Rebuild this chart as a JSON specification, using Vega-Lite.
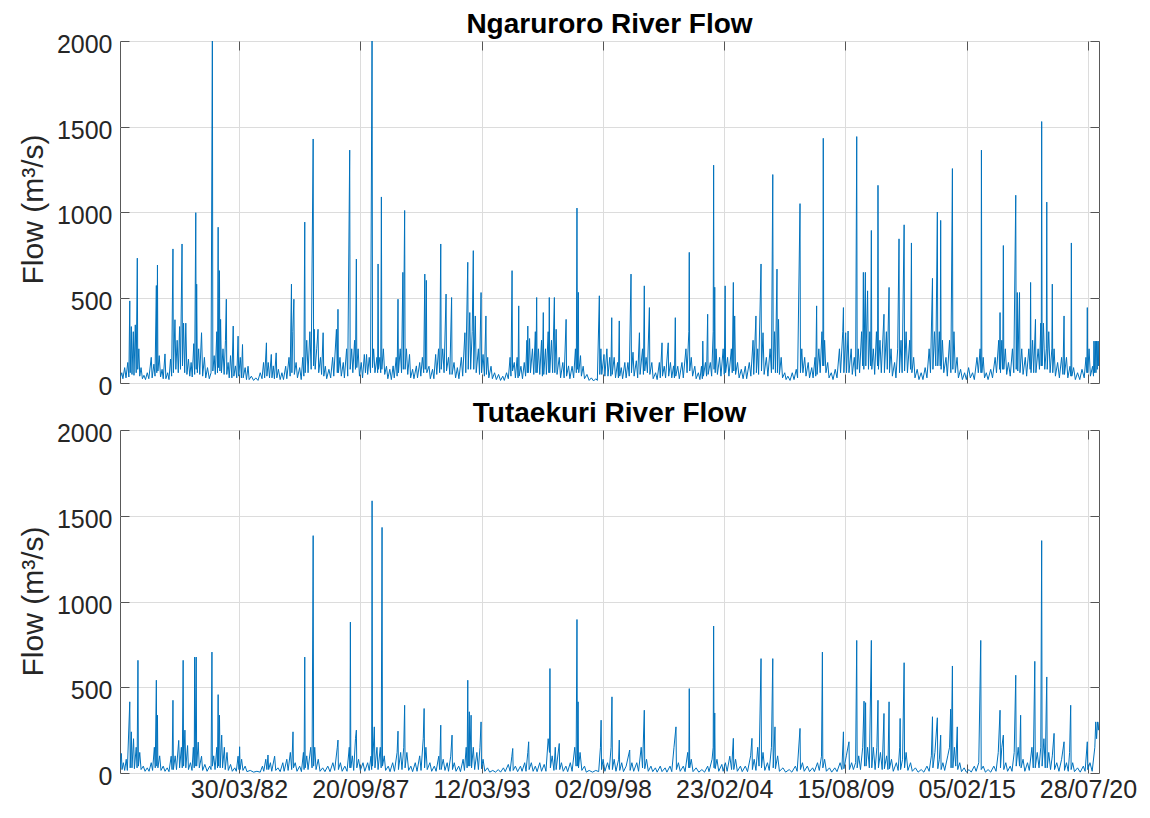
{
"$schema": "https://vega.github.io/schema/vega-lite/v6.json",
"background": "white",
"padding": {"left": 17, "top": 10, "right": 5, "bottom": 5},
"spacing": -1,
"config": {
  "font": "Liberation Sans",
  "view": {"stroke": "#595959", "strokeWidth": 1},
  "axis": {"labelFont": "Liberation Sans", "labelFontSize": 25, "labelColor": "#262626", "titleFont": "Liberation Sans", "titleFontSize": 30, "titleColor": "#262626", "titleFontWeight": "normal", "gridColor": "#dcdcdc", "gridOpacity": 1, "gridWidth": 1, "domain": false, "ticks": true, "tickSize": -9, "tickColor": "#555555", "tickWidth": 1},
  "title": {"font": "Liberation Sans", "fontSize": 28, "fontWeight": "bold", "color": "#000000", "anchor": "middle", "frame": "group", "baseline": "alphabetic", "offset": 8, "dy": 14}
},
"datasets": {
"ngaruroro": [
{"year":1976.88,"flow":30},{"year":1976.95,"flow":60},{"year":1977.00,"flow":25},{"year":1977.08,"flow":90},{"year":1977.14,"flow":30},{"year":1977.22,"flow":120},{"year":1977.27,"flow":35},{"year":1977.31,"flow":480},{"year":1977.33,"flow":60},{"year":1977.38,"flow":330},{"year":1977.41,"flow":50},{"year":1977.47,"flow":300},{"year":1977.50,"flow":45},{"year":1977.56,"flow":340},{"year":1977.60,"flow":60},{"year":1977.65,"flow":730},{"year":1977.67,"flow":80},{"year":1977.72,"flow":200},{"year":1977.76,"flow":40},{"year":1977.82,"flow":90},{"year":1977.88,"flow":25},{"year":1977.95,"flow":45},{"year":1978.02,"flow":20},{"year":1978.10,"flow":60},{"year":1978.17,"flow":25},{"year":1978.28,"flow":150},{"year":1978.32,"flow":30},{"year":1978.40,"flow":110},{"year":1978.45,"flow":40},{"year":1978.51,"flow":570},{"year":1978.53,"flow":60},{"year":1978.56,"flow":690},{"year":1978.58,"flow":70},{"year":1978.64,"flow":160},{"year":1978.70,"flow":35},{"year":1978.77,"flow":80},{"year":1978.82,"flow":25},{"year":1978.90,"flow":170},{"year":1978.94,"flow":25},{"year":1979.02,"flow":60},{"year":1979.08,"flow":20},{"year":1979.15,"flow":140},{"year":1979.20,"flow":40},{"year":1979.26,"flow":784},{"year":1979.28,"flow":60},{"year":1979.35,"flow":370},{"year":1979.39,"flow":80},{"year":1979.45,"flow":250},{"year":1979.50,"flow":60},{"year":1979.56,"flow":330},{"year":1979.60,"flow":80},{"year":1979.67,"flow":813},{"year":1979.69,"flow":100},{"year":1979.74,"flow":350},{"year":1979.79,"flow":60},{"year":1979.84,"flow":350},{"year":1979.89,"flow":50},{"year":1979.96,"flow":140},{"year":1980.02,"flow":40},{"year":1980.08,"flow":120},{"year":1980.13,"flow":35},{"year":1980.20,"flow":230},{"year":1980.24,"flow":50},{"year":1980.29,"flow":996},{"year":1980.31,"flow":80},{"year":1980.33,"flow":578},{"year":1980.36,"flow":60},{"year":1980.42,"flow":200},{"year":1980.47,"flow":50},{"year":1980.55,"flow":294},{"year":1980.60,"flow":40},{"year":1980.68,"flow":150},{"year":1980.74,"flow":30},{"year":1980.82,"flow":90},{"year":1980.90,"flow":25},{"year":1980.98,"flow":60},{"year":1981.04,"flow":2100},{"year":1981.06,"flow":70},{"year":1981.12,"flow":160},{"year":1981.17,"flow":50},{"year":1981.24,"flow":300},{"year":1981.27,"flow":60},{"year":1981.30,"flow":911},{"year":1981.32,"flow":90},{"year":1981.36,"flow":657},{"year":1981.38,"flow":70},{"year":1981.41,"flow":372},{"year":1981.45,"flow":60},{"year":1981.52,"flow":200},{"year":1981.57,"flow":50},{"year":1981.63,"flow":250},{"year":1981.67,"flow":490},{"year":1981.69,"flow":50},{"year":1981.75,"flow":120},{"year":1981.80,"flow":30},{"year":1981.86,"flow":160},{"year":1981.92,"flow":30},{"year":1981.98,"flow":333},{"year":1982.01,"flow":40},{"year":1982.08,"flow":100},{"year":1982.14,"flow":30},{"year":1982.20,"flow":274},{"year":1982.23,"flow":40},{"year":1982.30,"flow":150},{"year":1982.35,"flow":30},{"year":1982.40,"flow":225},{"year":1982.43,"flow":30},{"year":1982.52,"flow":90},{"year":1982.58,"flow":20},{"year":1982.65,"flow":98},{"year":1982.70,"flow":20},{"year":1982.80,"flow":40},{"year":1982.90,"flow":15},{"year":1983.00,"flow":30},{"year":1983.10,"flow":15},{"year":1983.20,"flow":60},{"year":1983.28,"flow":25},{"year":1983.35,"flow":120},{"year":1983.40,"flow":30},{"year":1983.48,"flow":235},{"year":1983.50,"flow":40},{"year":1983.56,"flow":120},{"year":1983.62,"flow":30},{"year":1983.70,"flow":167},{"year":1983.73,"flow":30},{"year":1983.79,"flow":100},{"year":1983.84,"flow":25},{"year":1983.92,"flow":176},{"year":1983.95,"flow":30},{"year":1984.02,"flow":80},{"year":1984.10,"flow":20},{"year":1984.18,"flow":60},{"year":1984.25,"flow":20},{"year":1984.35,"flow":98},{"year":1984.40,"flow":25},{"year":1984.50,"flow":150},{"year":1984.55,"flow":40},{"year":1984.61,"flow":578},{"year":1984.63,"flow":60},{"year":1984.67,"flow":300},{"year":1984.72,"flow":490},{"year":1984.74,"flow":50},{"year":1984.82,"flow":120},{"year":1984.88,"flow":30},{"year":1984.98,"flow":90},{"year":1985.05,"flow":20},{"year":1985.12,"flow":150},{"year":1985.17,"flow":40},{"year":1985.21,"flow":941},{"year":1985.23,"flow":60},{"year":1985.30,"flow":250},{"year":1985.36,"flow":60},{"year":1985.44,"flow":300},{"year":1985.50,"flow":80},{"year":1985.59,"flow":1427},{"year":1985.61,"flow":100},{"year":1985.64,"flow":314},{"year":1985.68,"flow":80},{"year":1985.75,"flow":200},{"year":1985.81,"flow":314},{"year":1985.84,"flow":60},{"year":1985.92,"flow":150},{"year":1985.97,"flow":50},{"year":1986.04,"flow":294},{"year":1986.07,"flow":40},{"year":1986.14,"flow":98},{"year":1986.20,"flow":25},{"year":1986.30,"flow":80},{"year":1986.38,"flow":30},{"year":1986.47,"flow":150},{"year":1986.52,"flow":40},{"year":1986.64,"flow":314},{"year":1986.68,"flow":60},{"year":1986.71,"flow":431},{"year":1986.73,"flow":60},{"year":1986.80,"flow":150},{"year":1986.86,"flow":40},{"year":1986.95,"flow":120},{"year":1987.00,"flow":30},{"year":1987.10,"flow":200},{"year":1987.15,"flow":40},{"year":1987.24,"flow":1362},{"year":1987.26,"flow":80},{"year":1987.33,"flow":200},{"year":1987.38,"flow":60},{"year":1987.46,"flow":250},{"year":1987.50,"flow":80},{"year":1987.54,"flow":725},{"year":1987.56,"flow":90},{"year":1987.62,"flow":200},{"year":1987.68,"flow":40},{"year":1987.76,"flow":120},{"year":1987.82,"flow":30},{"year":1987.90,"flow":167},{"year":1987.95,"flow":60},{"year":1988.00,"flow":167},{"year":1988.05,"flow":50},{"year":1988.12,"flow":150},{"year":1988.18,"flow":60},{"year":1988.25,"flow":2100},{"year":1988.27,"flow":90},{"year":1988.32,"flow":200},{"year":1988.38,"flow":60},{"year":1988.47,"flow":150},{"year":1988.50,"flow":60},{"year":1988.52,"flow":696},{"year":1988.54,"flow":80},{"year":1988.60,"flow":150},{"year":1988.64,"flow":60},{"year":1988.67,"flow":1088},{"year":1988.69,"flow":80},{"year":1988.76,"flow":200},{"year":1988.82,"flow":50},{"year":1988.90,"flow":98},{"year":1988.96,"flow":25},{"year":1989.05,"flow":80},{"year":1989.12,"flow":20},{"year":1989.20,"flow":100},{"year":1989.25,"flow":30},{"year":1989.34,"flow":150},{"year":1989.38,"flow":40},{"year":1989.42,"flow":490},{"year":1989.44,"flow":60},{"year":1989.52,"flow":200},{"year":1989.58,"flow":60},{"year":1989.64,"flow":647},{"year":1989.66,"flow":80},{"year":1989.72,"flow":1009},{"year":1989.74,"flow":80},{"year":1989.80,"flow":200},{"year":1989.86,"flow":50},{"year":1989.94,"flow":167},{"year":1989.99,"flow":30},{"year":1990.08,"flow":80},{"year":1990.14,"flow":25},{"year":1990.25,"flow":100},{"year":1990.30,"flow":30},{"year":1990.40,"flow":120},{"year":1990.45,"flow":40},{"year":1990.52,"flow":150},{"year":1990.58,"flow":60},{"year":1990.63,"flow":637},{"year":1990.65,"flow":80},{"year":1990.70,"flow":600},{"year":1990.72,"flow":60},{"year":1990.82,"flow":98},{"year":1990.88,"flow":25},{"year":1990.98,"flow":80},{"year":1991.04,"flow":25},{"year":1991.12,"flow":167},{"year":1991.17,"flow":50},{"year":1991.25,"flow":200},{"year":1991.30,"flow":60},{"year":1991.35,"flow":813},{"year":1991.37,"flow":80},{"year":1991.44,"flow":200},{"year":1991.50,"flow":60},{"year":1991.59,"flow":520},{"year":1991.61,"flow":70},{"year":1991.70,"flow":150},{"year":1991.76,"flow":50},{"year":1991.84,"flow":500},{"year":1991.86,"flow":50},{"year":1991.95,"flow":120},{"year":1992.02,"flow":30},{"year":1992.10,"flow":90},{"year":1992.17,"flow":25},{"year":1992.28,"flow":150},{"year":1992.34,"flow":40},{"year":1992.44,"flow":294},{"year":1992.48,"flow":60},{"year":1992.57,"flow":706},{"year":1992.59,"flow":80},{"year":1992.66,"flow":412},{"year":1992.70,"flow":80},{"year":1992.77,"flow":300},{"year":1992.82,"flow":774},{"year":1992.84,"flow":80},{"year":1992.91,"flow":392},{"year":1992.95,"flow":60},{"year":1993.05,"flow":200},{"year":1993.10,"flow":50},{"year":1993.17,"flow":529},{"year":1993.19,"flow":60},{"year":1993.26,"flow":167},{"year":1993.32,"flow":40},{"year":1993.39,"flow":392},{"year":1993.41,"flow":50},{"year":1993.47,"flow":150},{"year":1993.52,"flow":30},{"year":1993.62,"flow":98},{"year":1993.68,"flow":25},{"year":1993.78,"flow":60},{"year":1993.86,"flow":20},{"year":1993.96,"flow":50},{"year":1994.05,"flow":15},{"year":1994.15,"flow":40},{"year":1994.22,"flow":15},{"year":1994.32,"flow":60},{"year":1994.40,"flow":25},{"year":1994.48,"flow":150},{"year":1994.52,"flow":40},{"year":1994.57,"flow":657},{"year":1994.59,"flow":70},{"year":1994.67,"flow":120},{"year":1994.72,"flow":30},{"year":1994.80,"flow":150},{"year":1994.84,"flow":30},{"year":1994.87,"flow":451},{"year":1994.89,"flow":40},{"year":1994.97,"flow":98},{"year":1995.04,"flow":25},{"year":1995.12,"flow":120},{"year":1995.18,"flow":40},{"year":1995.24,"flow":250},{"year":1995.26,"flow":60},{"year":1995.28,"flow":333},{"year":1995.30,"flow":60},{"year":1995.36,"flow":260},{"year":1995.40,"flow":60},{"year":1995.49,"flow":200},{"year":1995.55,"flow":50},{"year":1995.62,"flow":300},{"year":1995.65,"flow":60},{"year":1995.68,"flow":500},{"year":1995.70,"flow":60},{"year":1995.76,"flow":200},{"year":1995.82,"flow":50},{"year":1995.90,"flow":250},{"year":1995.94,"flow":40},{"year":1995.98,"flow":412},{"year":1996.00,"flow":50},{"year":1996.08,"flow":200},{"year":1996.12,"flow":50},{"year":1996.20,"flow":300},{"year":1996.23,"flow":60},{"year":1996.25,"flow":500},{"year":1996.27,"flow":60},{"year":1996.35,"flow":250},{"year":1996.40,"flow":60},{"year":1996.48,"flow":500},{"year":1996.50,"flow":60},{"year":1996.56,"flow":314},{"year":1996.60,"flow":50},{"year":1996.70,"flow":150},{"year":1996.76,"flow":30},{"year":1996.86,"flow":120},{"year":1996.92,"flow":30},{"year":1997.01,"flow":372},{"year":1997.03,"flow":40},{"year":1997.12,"flow":100},{"year":1997.18,"flow":25},{"year":1997.28,"flow":98},{"year":1997.35,"flow":30},{"year":1997.43,"flow":200},{"year":1997.47,"flow":60},{"year":1997.50,"flow":1023},{"year":1997.52,"flow":80},{"year":1997.56,"flow":530},{"year":1997.58,"flow":60},{"year":1997.66,"flow":160},{"year":1997.70,"flow":40},{"year":1997.78,"flow":98},{"year":1997.84,"flow":25},{"year":1997.95,"flow":50},{"year":1998.05,"flow":15},{"year":1998.15,"flow":30},{"year":1998.25,"flow":12},{"year":1998.35,"flow":25},{"year":1998.42,"flow":15},{"year":1998.51,"flow":510},{"year":1998.53,"flow":50},{"year":1998.58,"flow":200},{"year":1998.62,"flow":50},{"year":1998.72,"flow":167},{"year":1998.76,"flow":40},{"year":1998.85,"flow":200},{"year":1998.90,"flow":40},{"year":1998.98,"flow":150},{"year":1999.03,"flow":40},{"year":1999.07,"flow":382},{"year":1999.09,"flow":50},{"year":1999.18,"flow":150},{"year":1999.24,"flow":30},{"year":1999.33,"flow":120},{"year":1999.37,"flow":30},{"year":1999.41,"flow":363},{"year":1999.43,"flow":40},{"year":1999.50,"flow":90},{"year":1999.56,"flow":25},{"year":1999.66,"flow":120},{"year":1999.72,"flow":30},{"year":1999.80,"flow":120},{"year":1999.86,"flow":40},{"year":1999.94,"flow":637},{"year":1999.96,"flow":60},{"year":2000.03,"flow":180},{"year":2000.08,"flow":40},{"year":2000.18,"flow":130},{"year":2000.24,"flow":30},{"year":2000.32,"flow":294},{"year":2000.35,"flow":50},{"year":2000.46,"flow":200},{"year":2000.50,"flow":50},{"year":2000.54,"flow":568},{"year":2000.56,"flow":70},{"year":2000.62,"flow":150},{"year":2000.68,"flow":60},{"year":2000.77,"flow":441},{"year":2000.79,"flow":50},{"year":2000.88,"flow":120},{"year":2000.94,"flow":25},{"year":2001.05,"flow":60},{"year":2001.12,"flow":20},{"year":2001.22,"flow":120},{"year":2001.26,"flow":30},{"year":2001.34,"flow":235},{"year":2001.36,"flow":40},{"year":2001.44,"flow":98},{"year":2001.50,"flow":30},{"year":2001.62,"flow":235},{"year":2001.64,"flow":40},{"year":2001.72,"flow":120},{"year":2001.78,"flow":30},{"year":2001.86,"flow":100},{"year":2001.90,"flow":30},{"year":2001.94,"flow":382},{"year":2001.96,"flow":40},{"year":2002.05,"flow":98},{"year":2002.12,"flow":25},{"year":2002.24,"flow":120},{"year":2002.30,"flow":30},{"year":2002.42,"flow":200},{"year":2002.47,"flow":60},{"year":2002.55,"flow":300},{"year":2002.57,"flow":764},{"year":2002.59,"flow":70},{"year":2002.66,"flow":150},{"year":2002.72,"flow":40},{"year":2002.82,"flow":98},{"year":2002.88,"flow":25},{"year":2002.98,"flow":60},{"year":2003.05,"flow":20},{"year":2003.12,"flow":98},{"year":2003.16,"flow":25},{"year":2003.18,"flow":245},{"year":2003.21,"flow":40},{"year":2003.30,"flow":120},{"year":2003.35,"flow":40},{"year":2003.40,"flow":402},{"year":2003.42,"flow":50},{"year":2003.52,"flow":120},{"year":2003.58,"flow":40},{"year":2003.65,"flow":300},{"year":2003.67,"flow":1274},{"year":2003.69,"flow":80},{"year":2003.72,"flow":560},{"year":2003.74,"flow":60},{"year":2003.78,"flow":200},{"year":2003.84,"flow":50},{"year":2003.94,"flow":150},{"year":2004.00,"flow":40},{"year":2004.10,"flow":200},{"year":2004.15,"flow":50},{"year":2004.19,"flow":568},{"year":2004.21,"flow":60},{"year":2004.30,"flow":150},{"year":2004.36,"flow":40},{"year":2004.47,"flow":200},{"year":2004.51,"flow":60},{"year":2004.56,"flow":588},{"year":2004.58,"flow":70},{"year":2004.62,"flow":392},{"year":2004.66,"flow":50},{"year":2004.75,"flow":120},{"year":2004.82,"flow":30},{"year":2004.92,"flow":80},{"year":2005.00,"flow":25},{"year":2005.10,"flow":98},{"year":2005.16,"flow":25},{"year":2005.28,"flow":120},{"year":2005.35,"flow":40},{"year":2005.45,"flow":250},{"year":2005.48,"flow":50},{"year":2005.58,"flow":392},{"year":2005.60,"flow":60},{"year":2005.66,"flow":200},{"year":2005.70,"flow":50},{"year":2005.81,"flow":696},{"year":2005.83,"flow":70},{"year":2005.90,"flow":294},{"year":2005.95,"flow":50},{"year":2006.05,"flow":150},{"year":2006.12,"flow":40},{"year":2006.22,"flow":200},{"year":2006.28,"flow":60},{"year":2006.34,"flow":1219},{"year":2006.36,"flow":80},{"year":2006.42,"flow":300},{"year":2006.46,"flow":60},{"year":2006.53,"flow":666},{"year":2006.55,"flow":60},{"year":2006.60,"flow":372},{"year":2006.64,"flow":50},{"year":2006.72,"flow":150},{"year":2006.78,"flow":30},{"year":2006.88,"flow":60},{"year":2006.94,"flow":20},{"year":2007.02,"flow":40},{"year":2007.12,"flow":15},{"year":2007.22,"flow":60},{"year":2007.30,"flow":20},{"year":2007.40,"flow":80},{"year":2007.46,"flow":30},{"year":2007.57,"flow":1049},{"year":2007.59,"flow":60},{"year":2007.65,"flow":200},{"year":2007.70,"flow":60},{"year":2007.78,"flow":150},{"year":2007.84,"flow":40},{"year":2007.94,"flow":120},{"year":2008.00,"flow":30},{"year":2008.10,"flow":90},{"year":2008.16,"flow":30},{"year":2008.25,"flow":150},{"year":2008.28,"flow":40},{"year":2008.32,"flow":451},{"year":2008.34,"flow":50},{"year":2008.42,"flow":200},{"year":2008.48,"flow":60},{"year":2008.56,"flow":300},{"year":2008.60,"flow":100},{"year":2008.62,"flow":1431},{"year":2008.64,"flow":100},{"year":2008.68,"flow":250},{"year":2008.74,"flow":60},{"year":2008.82,"flow":120},{"year":2008.88,"flow":30},{"year":2008.98,"flow":60},{"year":2009.06,"flow":20},{"year":2009.16,"flow":80},{"year":2009.24,"flow":30},{"year":2009.35,"flow":200},{"year":2009.40,"flow":60},{"year":2009.50,"flow":300},{"year":2009.53,"flow":441},{"year":2009.55,"flow":60},{"year":2009.63,"flow":294},{"year":2009.67,"flow":60},{"year":2009.74,"flow":304},{"year":2009.78,"flow":60},{"year":2009.88,"flow":200},{"year":2009.93,"flow":50},{"year":2010.02,"flow":150},{"year":2010.08,"flow":40},{"year":2010.13,"flow":1441},{"year":2010.15,"flow":80},{"year":2010.20,"flow":200},{"year":2010.26,"flow":60},{"year":2010.35,"flow":300},{"year":2010.40,"flow":100},{"year":2010.43,"flow":647},{"year":2010.45,"flow":80},{"year":2010.52,"flow":647},{"year":2010.54,"flow":100},{"year":2010.62,"flow":539},{"year":2010.66,"flow":80},{"year":2010.72,"flow":300},{"year":2010.76,"flow":100},{"year":2010.79,"flow":892},{"year":2010.81,"flow":80},{"year":2010.88,"flow":200},{"year":2010.94,"flow":50},{"year":2011.02,"flow":300},{"year":2011.07,"flow":100},{"year":2011.09,"flow":1156},{"year":2011.11,"flow":80},{"year":2011.18,"flow":250},{"year":2011.24,"flow":60},{"year":2011.36,"flow":402},{"year":2011.38,"flow":60},{"year":2011.47,"flow":300},{"year":2011.51,"flow":80},{"year":2011.59,"flow":559},{"year":2011.61,"flow":60},{"year":2011.68,"flow":200},{"year":2011.74,"flow":40},{"year":2011.84,"flow":120},{"year":2011.90,"flow":30},{"year":2011.98,"flow":200},{"year":2012.04,"flow":843},{"year":2012.06,"flow":60},{"year":2012.13,"flow":250},{"year":2012.18,"flow":60},{"year":2012.27,"flow":925},{"year":2012.29,"flow":70},{"year":2012.36,"flow":300},{"year":2012.42,"flow":60},{"year":2012.52,"flow":250},{"year":2012.56,"flow":80},{"year":2012.60,"flow":819},{"year":2012.62,"flow":60},{"year":2012.70,"flow":150},{"year":2012.76,"flow":30},{"year":2012.86,"flow":80},{"year":2012.94,"flow":20},{"year":2013.04,"flow":60},{"year":2013.12,"flow":20},{"year":2013.22,"flow":90},{"year":2013.30,"flow":30},{"year":2013.40,"flow":200},{"year":2013.46,"flow":60},{"year":2013.55,"flow":612},{"year":2013.57,"flow":80},{"year":2013.64,"flow":300},{"year":2013.70,"flow":100},{"year":2013.77,"flow":1000},{"year":2013.79,"flow":100},{"year":2013.86,"flow":300},{"year":2013.90,"flow":100},{"year":2013.92,"flow":951},{"year":2013.94,"flow":80},{"year":2014.00,"flow":250},{"year":2014.06,"flow":60},{"year":2014.16,"flow":150},{"year":2014.22,"flow":40},{"year":2014.32,"flow":250},{"year":2014.38,"flow":60},{"year":2014.45,"flow":1254},{"year":2014.47,"flow":80},{"year":2014.52,"flow":300},{"year":2014.58,"flow":60},{"year":2014.66,"flow":150},{"year":2014.72,"flow":30},{"year":2014.82,"flow":80},{"year":2014.90,"flow":20},{"year":2015.00,"flow":60},{"year":2015.08,"flow":20},{"year":2015.18,"flow":90},{"year":2015.26,"flow":30},{"year":2015.36,"flow":60},{"year":2015.44,"flow":20},{"year":2015.56,"flow":150},{"year":2015.62,"flow":60},{"year":2015.70,"flow":200},{"year":2015.74,"flow":60},{"year":2015.76,"flow":1362},{"year":2015.78,"flow":60},{"year":2015.84,"flow":150},{"year":2015.90,"flow":30},{"year":2015.98,"flow":60},{"year":2016.06,"flow":20},{"year":2016.18,"flow":80},{"year":2016.26,"flow":30},{"year":2016.38,"flow":150},{"year":2016.44,"flow":60},{"year":2016.54,"flow":250},{"year":2016.58,"flow":80},{"year":2016.60,"flow":412},{"year":2016.62,"flow":60},{"year":2016.68,"flow":250},{"year":2016.72,"flow":80},{"year":2016.75,"flow":804},{"year":2016.77,"flow":80},{"year":2016.84,"flow":200},{"year":2016.90,"flow":50},{"year":2016.98,"flow":120},{"year":2017.06,"flow":40},{"year":2017.16,"flow":200},{"year":2017.22,"flow":60},{"year":2017.31,"flow":1098},{"year":2017.33,"flow":80},{"year":2017.38,"flow":529},{"year":2017.40,"flow":70},{"year":2017.48,"flow":529},{"year":2017.50,"flow":60},{"year":2017.58,"flow":200},{"year":2017.64,"flow":50},{"year":2017.74,"flow":150},{"year":2017.80,"flow":40},{"year":2017.90,"flow":200},{"year":2017.96,"flow":80},{"year":2017.98,"flow":588},{"year":2018.00,"flow":60},{"year":2018.07,"flow":250},{"year":2018.12,"flow":60},{"year":2018.20,"flow":372},{"year":2018.22,"flow":60},{"year":2018.32,"flow":200},{"year":2018.38,"flow":80},{"year":2018.44,"flow":350},{"year":2018.46,"flow":100},{"year":2018.48,"flow":1529},{"year":2018.50,"flow":100},{"year":2018.56,"flow":350},{"year":2018.62,"flow":80},{"year":2018.69,"flow":200},{"year":2018.71,"flow":1058},{"year":2018.73,"flow":80},{"year":2018.80,"flow":300},{"year":2018.86,"flow":60},{"year":2018.94,"flow":200},{"year":2018.96,"flow":578},{"year":2018.98,"flow":60},{"year":2019.04,"flow":200},{"year":2019.10,"flow":40},{"year":2019.20,"flow":120},{"year":2019.28,"flow":30},{"year":2019.38,"flow":150},{"year":2019.44,"flow":50},{"year":2019.49,"flow":392},{"year":2019.51,"flow":50},{"year":2019.60,"flow":150},{"year":2019.66,"flow":30},{"year":2019.76,"flow":98},{"year":2019.80,"flow":40},{"year":2019.82,"flow":819},{"year":2019.84,"flow":40},{"year":2019.92,"flow":90},{"year":2020.00,"flow":20},{"year":2020.10,"flow":60},{"year":2020.20,"flow":20},{"year":2020.30,"flow":80},{"year":2020.40,"flow":30},{"year":2020.48,"flow":150},{"year":2020.52,"flow":60},{"year":2020.54,"flow":441},{"year":2020.56,"flow":60},{"year":2020.62,"flow":200},{"year":2020.68,"flow":40},{"year":2020.78,"flow":98},{"year":2020.82,"flow":40},{"year":2020.84,"flow":245},{"year":2020.87,"flow":60},{"year":2020.90,"flow":245},{"year":2020.93,"flow":60},{"year":2020.96,"flow":245},{"year":2020.99,"flow":80},{"year":2021.02,"flow":245},{"year":2021.04,"flow":100},{"year":2021.06,"flow":245}
],
"tutaekuri": [
{"year":1976.88,"flow":30},{"year":1976.93,"flow":114},{"year":1976.96,"flow":20},{"year":1977.02,"flow":60},{"year":1977.08,"flow":15},{"year":1977.15,"flow":80},{"year":1977.20,"flow":15},{"year":1977.31,"flow":415},{"year":1977.33,"flow":30},{"year":1977.38,"flow":240},{"year":1977.41,"flow":30},{"year":1977.48,"flow":200},{"year":1977.52,"flow":25},{"year":1977.60,"flow":150},{"year":1977.64,"flow":30},{"year":1977.68,"flow":657},{"year":1977.70,"flow":40},{"year":1977.76,"flow":120},{"year":1977.82,"flow":20},{"year":1977.92,"flow":40},{"year":1978.00,"flow":10},{"year":1978.10,"flow":30},{"year":1978.18,"flow":10},{"year":1978.28,"flow":60},{"year":1978.34,"flow":15},{"year":1978.42,"flow":150},{"year":1978.46,"flow":30},{"year":1978.51,"flow":541},{"year":1978.53,"flow":40},{"year":1978.56,"flow":337},{"year":1978.58,"flow":30},{"year":1978.66,"flow":100},{"year":1978.72,"flow":15},{"year":1978.82,"flow":40},{"year":1978.90,"flow":10},{"year":1979.00,"flow":30},{"year":1979.08,"flow":8},{"year":1979.18,"flow":98},{"year":1979.22,"flow":20},{"year":1979.26,"flow":424},{"year":1979.28,"flow":20},{"year":1979.36,"flow":100},{"year":1979.42,"flow":20},{"year":1979.52,"flow":190},{"year":1979.56,"flow":30},{"year":1979.64,"flow":150},{"year":1979.68,"flow":30},{"year":1979.72,"flow":657},{"year":1979.74,"flow":40},{"year":1979.80,"flow":250},{"year":1979.84,"flow":30},{"year":1979.92,"flow":160},{"year":1979.96,"flow":20},{"year":1980.05,"flow":60},{"year":1980.12,"flow":15},{"year":1980.18,"flow":150},{"year":1980.22,"flow":30},{"year":1980.24,"flow":676},{"year":1980.26,"flow":40},{"year":1980.31,"flow":676},{"year":1980.33,"flow":40},{"year":1980.40,"flow":180},{"year":1980.45,"flow":30},{"year":1980.55,"flow":98},{"year":1980.60,"flow":15},{"year":1980.70,"flow":50},{"year":1980.80,"flow":10},{"year":1980.92,"flow":40},{"year":1980.98,"flow":20},{"year":1981.02,"flow":705},{"year":1981.04,"flow":40},{"year":1981.10,"flow":100},{"year":1981.16,"flow":20},{"year":1981.24,"flow":150},{"year":1981.27,"flow":30},{"year":1981.30,"flow":457},{"year":1981.32,"flow":40},{"year":1981.36,"flow":337},{"year":1981.39,"flow":30},{"year":1981.46,"flow":221},{"year":1981.50,"flow":30},{"year":1981.58,"flow":150},{"year":1981.62,"flow":20},{"year":1981.70,"flow":120},{"year":1981.76,"flow":15},{"year":1981.86,"flow":50},{"year":1981.94,"flow":10},{"year":1982.05,"flow":30},{"year":1982.12,"flow":10},{"year":1982.20,"flow":98},{"year":1982.24,"flow":20},{"year":1982.27,"flow":153},{"year":1982.29,"flow":20},{"year":1982.36,"flow":80},{"year":1982.42,"flow":15},{"year":1982.52,"flow":40},{"year":1982.60,"flow":8},{"year":1982.75,"flow":15},{"year":1982.90,"flow":5},{"year":1983.05,"flow":10},{"year":1983.20,"flow":5},{"year":1983.30,"flow":40},{"year":1983.36,"flow":10},{"year":1983.45,"flow":80},{"year":1983.50,"flow":20},{"year":1983.55,"flow":105},{"year":1983.58,"flow":20},{"year":1983.66,"flow":60},{"year":1983.72,"flow":10},{"year":1983.85,"flow":98},{"year":1983.90,"flow":15},{"year":1984.00,"flow":30},{"year":1984.10,"flow":8},{"year":1984.22,"flow":60},{"year":1984.28,"flow":10},{"year":1984.40,"flow":80},{"year":1984.46,"flow":15},{"year":1984.56,"flow":120},{"year":1984.62,"flow":20},{"year":1984.68,"flow":240},{"year":1984.70,"flow":30},{"year":1984.78,"flow":60},{"year":1984.86,"flow":10},{"year":1984.98,"flow":40},{"year":1985.06,"flow":8},{"year":1985.15,"flow":120},{"year":1985.18,"flow":20},{"year":1985.21,"flow":676},{"year":1985.23,"flow":30},{"year":1985.30,"flow":100},{"year":1985.36,"flow":20},{"year":1985.48,"flow":150},{"year":1985.54,"flow":30},{"year":1985.59,"flow":1384},{"year":1985.61,"flow":40},{"year":1985.66,"flow":150},{"year":1985.72,"flow":20},{"year":1985.82,"flow":80},{"year":1985.90,"flow":10},{"year":1986.02,"flow":30},{"year":1986.12,"flow":8},{"year":1986.25,"flow":40},{"year":1986.35,"flow":8},{"year":1986.48,"flow":60},{"year":1986.56,"flow":15},{"year":1986.68,"flow":150},{"year":1986.71,"flow":192},{"year":1986.73,"flow":20},{"year":1986.82,"flow":60},{"year":1986.90,"flow":10},{"year":1987.02,"flow":40},{"year":1987.12,"flow":10},{"year":1987.22,"flow":150},{"year":1987.25,"flow":30},{"year":1987.27,"flow":880},{"year":1987.29,"flow":30},{"year":1987.36,"flow":100},{"year":1987.42,"flow":15},{"year":1987.50,"flow":200},{"year":1987.54,"flow":250},{"year":1987.56,"flow":30},{"year":1987.64,"flow":80},{"year":1987.72,"flow":15},{"year":1987.84,"flow":60},{"year":1987.92,"flow":10},{"year":1988.05,"flow":60},{"year":1988.12,"flow":15},{"year":1988.20,"flow":98},{"year":1988.23,"flow":20},{"year":1988.25,"flow":1587},{"year":1988.27,"flow":40},{"year":1988.35,"flow":269},{"year":1988.38,"flow":30},{"year":1988.47,"flow":150},{"year":1988.52,"flow":20},{"year":1988.62,"flow":150},{"year":1988.66,"flow":30},{"year":1988.70,"flow":1432},{"year":1988.72,"flow":40},{"year":1988.80,"flow":100},{"year":1988.86,"flow":15},{"year":1988.98,"flow":40},{"year":1989.06,"flow":8},{"year":1989.18,"flow":60},{"year":1989.26,"flow":10},{"year":1989.38,"flow":120},{"year":1989.42,"flow":244},{"year":1989.44,"flow":20},{"year":1989.54,"flow":120},{"year":1989.60,"flow":20},{"year":1989.68,"flow":150},{"year":1989.72,"flow":395},{"year":1989.74,"flow":30},{"year":1989.82,"flow":120},{"year":1989.90,"flow":15},{"year":1990.00,"flow":40},{"year":1990.08,"flow":8},{"year":1990.20,"flow":60},{"year":1990.28,"flow":10},{"year":1990.40,"flow":100},{"year":1990.46,"flow":15},{"year":1990.56,"flow":200},{"year":1990.60,"flow":376},{"year":1990.62,"flow":30},{"year":1990.68,"flow":150},{"year":1990.74,"flow":20},{"year":1990.86,"flow":60},{"year":1990.94,"flow":10},{"year":1991.06,"flow":40},{"year":1991.14,"flow":10},{"year":1991.26,"flow":98},{"year":1991.30,"flow":20},{"year":1991.35,"flow":279},{"year":1991.37,"flow":20},{"year":1991.46,"flow":80},{"year":1991.54,"flow":15},{"year":1991.64,"flow":60},{"year":1991.70,"flow":10},{"year":1991.80,"flow":98},{"year":1991.86,"flow":221},{"year":1991.88,"flow":20},{"year":1991.96,"flow":60},{"year":1992.04,"flow":10},{"year":1992.16,"flow":40},{"year":1992.24,"flow":8},{"year":1992.36,"flow":80},{"year":1992.42,"flow":15},{"year":1992.50,"flow":150},{"year":1992.54,"flow":30},{"year":1992.57,"flow":541},{"year":1992.59,"flow":40},{"year":1992.64,"flow":357},{"year":1992.66,"flow":40},{"year":1992.72,"flow":337},{"year":1992.74,"flow":30},{"year":1992.82,"flow":150},{"year":1992.88,"flow":20},{"year":1992.98,"flow":120},{"year":1993.05,"flow":20},{"year":1993.12,"flow":150},{"year":1993.17,"flow":298},{"year":1993.19,"flow":25},{"year":1993.26,"flow":80},{"year":1993.34,"flow":10},{"year":1993.46,"flow":30},{"year":1993.56,"flow":5},{"year":1993.70,"flow":15},{"year":1993.82,"flow":5},{"year":1993.95,"flow":20},{"year":1994.05,"flow":5},{"year":1994.18,"flow":30},{"year":1994.26,"flow":8},{"year":1994.40,"flow":50},{"year":1994.48,"flow":10},{"year":1994.56,"flow":98},{"year":1994.60,"flow":143},{"year":1994.62,"flow":15},{"year":1994.72,"flow":40},{"year":1994.82,"flow":8},{"year":1994.95,"flow":40},{"year":1995.02,"flow":10},{"year":1995.14,"flow":60},{"year":1995.20,"flow":10},{"year":1995.28,"flow":120},{"year":1995.32,"flow":182},{"year":1995.34,"flow":20},{"year":1995.44,"flow":60},{"year":1995.52,"flow":10},{"year":1995.62,"flow":40},{"year":1995.70,"flow":8},{"year":1995.82,"flow":60},{"year":1995.90,"flow":10},{"year":1996.02,"flow":50},{"year":1996.10,"flow":10},{"year":1996.20,"flow":200},{"year":1996.26,"flow":120},{"year":1996.28,"flow":609},{"year":1996.30,"flow":30},{"year":1996.38,"flow":100},{"year":1996.46,"flow":15},{"year":1996.52,"flow":150},{"year":1996.56,"flow":20},{"year":1996.70,"flow":172},{"year":1996.72,"flow":20},{"year":1996.80,"flow":60},{"year":1996.88,"flow":10},{"year":1997.00,"flow":40},{"year":1997.08,"flow":8},{"year":1997.20,"flow":60},{"year":1997.28,"flow":10},{"year":1997.40,"flow":150},{"year":1997.46,"flow":40},{"year":1997.50,"flow":895},{"year":1997.52,"flow":40},{"year":1997.55,"flow":415},{"year":1997.57,"flow":30},{"year":1997.64,"flow":120},{"year":1997.72,"flow":15},{"year":1997.84,"flow":40},{"year":1997.92,"flow":5},{"year":1998.05,"flow":15},{"year":1998.20,"flow":5},{"year":1998.35,"flow":15},{"year":1998.48,"flow":8},{"year":1998.56,"flow":150},{"year":1998.59,"flow":308},{"year":1998.61,"flow":20},{"year":1998.68,"flow":80},{"year":1998.76,"flow":10},{"year":1998.88,"flow":60},{"year":1998.96,"flow":20},{"year":1999.04,"flow":150},{"year":1999.08,"flow":444},{"year":1999.10,"flow":20},{"year":1999.18,"flow":80},{"year":1999.26,"flow":10},{"year":1999.38,"flow":80},{"year":1999.41,"flow":192},{"year":1999.43,"flow":15},{"year":1999.52,"flow":60},{"year":1999.60,"flow":8},{"year":1999.72,"flow":40},{"year":1999.88,"flow":134},{"year":1999.90,"flow":15},{"year":1999.98,"flow":60},{"year":2000.06,"flow":10},{"year":2000.20,"flow":60},{"year":2000.28,"flow":10},{"year":2000.40,"flow":150},{"year":2000.46,"flow":30},{"year":2000.54,"flow":366},{"year":2000.56,"flow":25},{"year":2000.64,"flow":80},{"year":2000.72,"flow":10},{"year":2000.84,"flow":40},{"year":2000.92,"flow":8},{"year":2001.04,"flow":30},{"year":2001.12,"flow":5},{"year":2001.26,"flow":40},{"year":2001.34,"flow":8},{"year":2001.48,"flow":30},{"year":2001.56,"flow":5},{"year":2001.70,"flow":40},{"year":2001.78,"flow":8},{"year":2001.88,"flow":150},{"year":2001.97,"flow":269},{"year":2001.99,"flow":20},{"year":2002.08,"flow":60},{"year":2002.16,"flow":10},{"year":2002.30,"flow":40},{"year":2002.38,"flow":8},{"year":2002.50,"flow":120},{"year":2002.55,"flow":30},{"year":2002.57,"flow":492},{"year":2002.59,"flow":30},{"year":2002.66,"flow":80},{"year":2002.74,"flow":8},{"year":2002.88,"flow":30},{"year":2003.00,"flow":5},{"year":2003.14,"flow":20},{"year":2003.26,"flow":5},{"year":2003.40,"flow":40},{"year":2003.46,"flow":8},{"year":2003.60,"flow":80},{"year":2003.65,"flow":150},{"year":2003.67,"flow":857},{"year":2003.69,"flow":30},{"year":2003.72,"flow":350},{"year":2003.74,"flow":25},{"year":2003.82,"flow":80},{"year":2003.90,"flow":10},{"year":2004.04,"flow":50},{"year":2004.10,"flow":10},{"year":2004.20,"flow":60},{"year":2004.28,"flow":10},{"year":2004.40,"flow":98},{"year":2004.48,"flow":20},{"year":2004.56,"flow":202},{"year":2004.58,"flow":20},{"year":2004.66,"flow":80},{"year":2004.74,"flow":10},{"year":2004.88,"flow":40},{"year":2004.96,"flow":8},{"year":2005.10,"flow":40},{"year":2005.20,"flow":8},{"year":2005.34,"flow":100},{"year":2005.40,"flow":202},{"year":2005.42,"flow":20},{"year":2005.50,"flow":80},{"year":2005.58,"flow":15},{"year":2005.66,"flow":150},{"year":2005.72,"flow":40},{"year":2005.81,"flow":667},{"year":2005.83,"flow":30},{"year":2005.90,"flow":120},{"year":2005.98,"flow":15},{"year":2006.10,"flow":60},{"year":2006.18,"flow":15},{"year":2006.28,"flow":150},{"year":2006.34,"flow":667},{"year":2006.36,"flow":30},{"year":2006.44,"flow":269},{"year":2006.46,"flow":25},{"year":2006.56,"flow":100},{"year":2006.64,"flow":10},{"year":2006.80,"flow":30},{"year":2006.92,"flow":5},{"year":2007.08,"flow":20},{"year":2007.20,"flow":5},{"year":2007.36,"flow":40},{"year":2007.44,"flow":10},{"year":2007.57,"flow":260},{"year":2007.59,"flow":20},{"year":2007.68,"flow":60},{"year":2007.76,"flow":10},{"year":2007.90,"flow":40},{"year":2008.00,"flow":8},{"year":2008.14,"flow":30},{"year":2008.22,"flow":8},{"year":2008.36,"flow":60},{"year":2008.44,"flow":15},{"year":2008.54,"flow":98},{"year":2008.58,"flow":705},{"year":2008.60,"flow":30},{"year":2008.68,"flow":80},{"year":2008.76,"flow":10},{"year":2008.90,"flow":30},{"year":2009.00,"flow":5},{"year":2009.14,"flow":30},{"year":2009.24,"flow":8},{"year":2009.38,"flow":60},{"year":2009.46,"flow":20},{"year":2009.53,"flow":240},{"year":2009.55,"flow":25},{"year":2009.66,"flow":100},{"year":2009.78,"flow":182},{"year":2009.80,"flow":20},{"year":2009.90,"flow":60},{"year":2009.98,"flow":20},{"year":2010.08,"flow":60},{"year":2010.13,"flow":773},{"year":2010.15,"flow":30},{"year":2010.22,"flow":100},{"year":2010.30,"flow":20},{"year":2010.40,"flow":150},{"year":2010.46,"flow":419},{"year":2010.48,"flow":40},{"year":2010.53,"flow":410},{"year":2010.55,"flow":40},{"year":2010.62,"flow":150},{"year":2010.70,"flow":30},{"year":2010.79,"flow":773},{"year":2010.81,"flow":30},{"year":2010.88,"flow":150},{"year":2010.96,"flow":20},{"year":2011.04,"flow":150},{"year":2011.09,"flow":424},{"year":2011.11,"flow":30},{"year":2011.20,"flow":120},{"year":2011.28,"flow":20},{"year":2011.36,"flow":347},{"year":2011.38,"flow":25},{"year":2011.48,"flow":100},{"year":2011.54,"flow":20},{"year":2011.59,"flow":415},{"year":2011.61,"flow":25},{"year":2011.70,"flow":80},{"year":2011.78,"flow":10},{"year":2011.92,"flow":60},{"year":2012.00,"flow":15},{"year":2012.07,"flow":150},{"year":2012.09,"flow":318},{"year":2012.11,"flow":20},{"year":2012.20,"flow":80},{"year":2012.27,"flow":643},{"year":2012.29,"flow":30},{"year":2012.36,"flow":120},{"year":2012.44,"flow":15},{"year":2012.56,"flow":60},{"year":2012.64,"flow":10},{"year":2012.78,"flow":30},{"year":2012.90,"flow":5},{"year":2013.04,"flow":20},{"year":2013.16,"flow":5},{"year":2013.30,"flow":40},{"year":2013.40,"flow":10},{"year":2013.50,"flow":100},{"year":2013.55,"flow":328},{"year":2013.57,"flow":30},{"year":2013.66,"flow":120},{"year":2013.77,"flow":322},{"year":2013.79,"flow":25},{"year":2013.86,"flow":80},{"year":2013.92,"flow":221},{"year":2013.94,"flow":20},{"year":2014.02,"flow":60},{"year":2014.10,"flow":15},{"year":2014.24,"flow":100},{"year":2014.32,"flow":150},{"year":2014.37,"flow":372},{"year":2014.39,"flow":30},{"year":2014.45,"flow":624},{"year":2014.47,"flow":30},{"year":2014.54,"flow":150},{"year":2014.60,"flow":40},{"year":2014.67,"flow":269},{"year":2014.69,"flow":20},{"year":2014.78,"flow":60},{"year":2014.86,"flow":8},{"year":2014.98,"flow":30},{"year":2015.08,"flow":5},{"year":2015.20,"flow":20},{"year":2015.30,"flow":5},{"year":2015.44,"flow":40},{"year":2015.52,"flow":10},{"year":2015.64,"flow":60},{"year":2015.73,"flow":773},{"year":2015.75,"flow":20},{"year":2015.84,"flow":40},{"year":2015.94,"flow":5},{"year":2016.06,"flow":20},{"year":2016.18,"flow":5},{"year":2016.32,"flow":40},{"year":2016.42,"flow":10},{"year":2016.52,"flow":120},{"year":2016.60,"flow":366},{"year":2016.62,"flow":30},{"year":2016.68,"flow":150},{"year":2016.75,"flow":221},{"year":2016.77,"flow":20},{"year":2016.86,"flow":60},{"year":2016.94,"flow":10},{"year":2017.06,"flow":40},{"year":2017.14,"flow":10},{"year":2017.24,"flow":120},{"year":2017.31,"flow":570},{"year":2017.33,"flow":40},{"year":2017.42,"flow":150},{"year":2017.48,"flow":40},{"year":2017.53,"flow":337},{"year":2017.55,"flow":30},{"year":2017.64,"flow":80},{"year":2017.72,"flow":10},{"year":2017.84,"flow":60},{"year":2017.92,"flow":15},{"year":2018.04,"flow":150},{"year":2018.10,"flow":30},{"year":2018.17,"flow":651},{"year":2018.19,"flow":30},{"year":2018.28,"flow":120},{"year":2018.36,"flow":30},{"year":2018.44,"flow":150},{"year":2018.48,"flow":1355},{"year":2018.50,"flow":40},{"year":2018.58,"flow":200},{"year":2018.64,"flow":30},{"year":2018.71,"flow":560},{"year":2018.73,"flow":30},{"year":2018.80,"flow":120},{"year":2018.88,"flow":20},{"year":2018.96,"flow":100},{"year":2019.04,"flow":231},{"year":2019.06,"flow":20},{"year":2019.16,"flow":60},{"year":2019.26,"flow":10},{"year":2019.38,"flow":80},{"year":2019.49,"flow":182},{"year":2019.51,"flow":15},{"year":2019.60,"flow":60},{"year":2019.68,"flow":10},{"year":2019.74,"flow":120},{"year":2019.79,"flow":395},{"year":2019.81,"flow":20},{"year":2019.88,"flow":60},{"year":2019.96,"flow":8},{"year":2020.10,"flow":30},{"year":2020.22,"flow":5},{"year":2020.36,"flow":40},{"year":2020.44,"flow":10},{"year":2020.54,"flow":182},{"year":2020.56,"flow":20},{"year":2020.66,"flow":60},{"year":2020.76,"flow":10},{"year":2020.88,"flow":150},{"year":2020.92,"flow":298},{"year":2020.96,"flow":200},{"year":2021.00,"flow":298},{"year":2021.04,"flow":250},{"year":2021.07,"flow":298}
]
},
"vconcat": [
{
  "width": 979, "height": 342,
  "title": {"text": "Ngaruroro River Flow"},
  "data": {"name": "ngaruroro"},
  "layer": [
    {
      "mark": {"type": "line", "clip": true, "color": "#0072BD", "strokeWidth": 1},
      "encoding": {
        "x": {"field": "year", "type": "quantitative", "scale": {"domain": [1976.869, 2021.068], "nice": false, "zero": false},
              "axis": {"title": null, "labels": false, "values": [1982.241, 1987.718, 1993.192, 1998.668, 2004.145, 2009.619, 2015.096, 2020.571]}},
        "y": {"field": "flow", "type": "quantitative", "scale": {"domain": [0, 2000], "nice": false},
              "axis": {"title": "Flow (m³/s)", "format": "d", "values": [0, 500, 1000, 1500, 2000], "labelPadding": 17, "labelOffset": 3.5, "titleX": -78, "titleY": 168, "titleAngle": 270, "titleBaseline": "alphabetic", "titleAlign": "center"}}
      }
    },
    {
      "mark": {"type": "line", "clip": true, "opacity": 0},
      "encoding": {
        "x": {"field": "year", "type": "quantitative",
              "axis": {"orient": "top", "title": null, "labels": false, "grid": false, "values": [1982.241, 1987.718, 1993.192, 1998.668, 2004.145, 2009.619, 2015.096, 2020.571]}},
        "y": {"field": "flow", "type": "quantitative",
              "axis": {"orient": "right", "title": null, "labels": false, "grid": false, "values": [0, 500, 1000, 1500, 2000]}}
      }
    }
  ],
  "resolve": {"axis": {"x": "independent", "y": "independent"}}
},
{
  "width": 979, "height": 343,
  "title": {"text": "Tutaekuri River Flow"},
  "data": {"name": "tutaekuri"},
  "layer": [
    {
      "mark": {"type": "line", "clip": true, "color": "#0072BD", "strokeWidth": 1},
      "encoding": {
        "x": {"field": "year", "type": "quantitative", "scale": {"domain": [1976.869, 2021.068], "nice": false, "zero": false},
              "axis": {"title": null, "labelPadding": 13, "labelFlush": false, "labelOverlap": false, "values": [1982.241, 1987.718, 1993.192, 1998.668, 2004.145, 2009.619, 2015.096, 2020.571],
                       "labelExpr": "datum.value < 1985 ? '30/03/82' : datum.value < 1990 ? '20/09/87' : datum.value < 1996 ? '12/03/93' : datum.value < 2001 ? '02/09/98' : datum.value < 2007 ? '23/02/04' : datum.value < 2012 ? '15/08/09' : datum.value < 2018 ? '05/02/15' : '28/07/20'"}},
        "y": {"field": "flow", "type": "quantitative", "scale": {"domain": [0, 2000], "nice": false},
              "axis": {"title": "Flow (m³/s)", "format": "d", "values": [0, 500, 1000, 1500, 2000], "labelPadding": 17, "labelOffset": 3.5, "titleX": -78, "titleY": 171, "titleAngle": 270, "titleBaseline": "alphabetic", "titleAlign": "center"}}
      }
    },
    {
      "mark": {"type": "line", "clip": true, "opacity": 0},
      "encoding": {
        "x": {"field": "year", "type": "quantitative",
              "axis": {"orient": "top", "title": null, "labels": false, "grid": false, "values": [1982.241, 1987.718, 1993.192, 1998.668, 2004.145, 2009.619, 2015.096, 2020.571]}},
        "y": {"field": "flow", "type": "quantitative",
              "axis": {"orient": "right", "title": null, "labels": false, "grid": false, "values": [0, 500, 1000, 1500, 2000]}}
      }
    }
  ],
  "resolve": {"axis": {"x": "independent", "y": "independent"}}
}
]
}
